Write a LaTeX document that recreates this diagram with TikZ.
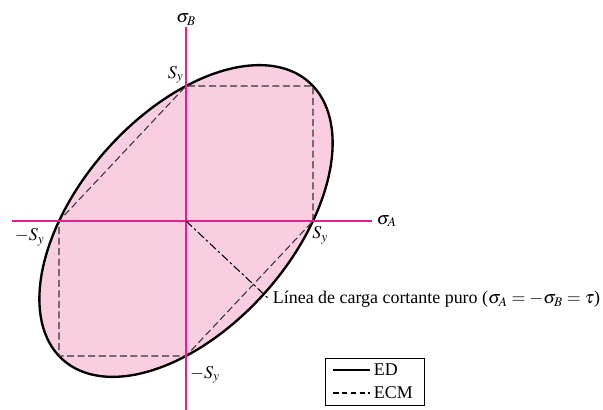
\documentclass[tikz,border=0pt]{standalone}
\usepackage{mathptmx}
\usepackage{fontspec}
\setmainfont{Liberation Serif}
\usetikzlibrary{positioning, calc, fit}
\definecolor{axmag}{RGB}{228,30,140}
\definecolor{edfill}{RGB}{249,206,224}

\begin{document}
\begin{tikzpicture}[
  x=3.81cm, y=4.05cm,
  every node/.style={font=\fontsize{15.3}{18}\selectfont},
  axisline/.style={axmag, line width=1.4pt},
  edcurve/.style={draw=black, line width=2pt, fill=edfill},
  ecmline/.style={dash pattern=on 6pt off 3pt, line width=0.9pt, black!80},
  loadline/.style={dash pattern=on 7pt off 2.5pt on 2pt off 2.5pt, line width=0.9pt},
  leglabel/.style={anchor=west, inner sep=3pt},
]
\useasboundingbox (-1.4646,-1.4) rectangle (3.2835,1.637);

\coordinate (O) at (0,0);
\coordinate (sa) at (1,0);
\coordinate (sab) at (1,1);
\coordinate (sb) at (0,1);
\coordinate (nsa) at (-1,0);
\coordinate (nsab) at (-1,-1);
\coordinate (nsb) at (0,-1);

% ED ellipse (von Mises)
\filldraw[edcurve] plot[domain=0:355, samples=72, smooth cycle]
  ({cos(\x)-sin(\x)/sqrt(3)}, {cos(\x)+sin(\x)/sqrt(3)});

% ECM hexagon
\draw[ecmline] (sa) -- (sab) -- (sb) -- (nsa) -- (nsab) -- (nsb) -- cycle;

% axes
\coordinate (xl) at (-1.37,0);
\coordinate (xr) at (1.465,0);
\coordinate (yt) at (0,1.44);
\coordinate (yb) at (0,-1.41);
\draw[axisline] (xl) -- (xr);
\draw[axisline] (yb) -- (yt);
\node[anchor=west, inner sep=4pt] (siga) at (xr) {$\sigma_A$};
\node[anchor=south, inner sep=1pt] (sigb) at (yt) {$\sigma_B$};

\node[anchor=south east, inner sep=2pt] (lsb) at (sb) {$S_y$};
\node[anchor=north, xshift=6pt, yshift=-1pt] (lsa) at (sa) {$S_y$};
\node[anchor=north east, xshift=-9pt, yshift=-3pt] (lnsa) at (nsa) {$-S_y$};
\node[anchor=north west, yshift=-5pt] (lnsb) at (nsb) {$-S_y$};

% pure shear load line
\node[anchor=west, inner sep=3pt] (shear) at (0.655,-0.58)
  {Línea de carga cortante puro ($\sigma_A = -\sigma_B = \tau$)};
\draw[loadline] (O) -- (shear.west);

% legend
\node[leglabel] (ed) at (1.45,-1.104) {ED};
\node[leglabel] (ecm) at (1.45,-1.274) {ECM};
\coordinate (edl) at ($(ed.west)+(-0.29,0)$);
\coordinate (ecml) at ($(ecm.west)+(-0.29,0)$);
\draw[line width=1.8pt] (edl) -- (ed.west);
\draw[dash pattern=on 4.5pt off 3pt, line width=0.9pt] (ecml) -- (ecm.west);
\node[draw, line width=0.8pt, fit=(edl)(ed)(ecm), inner xsep=7pt, inner ysep=2pt] (legend) {};
\end{tikzpicture}
\end{document}
